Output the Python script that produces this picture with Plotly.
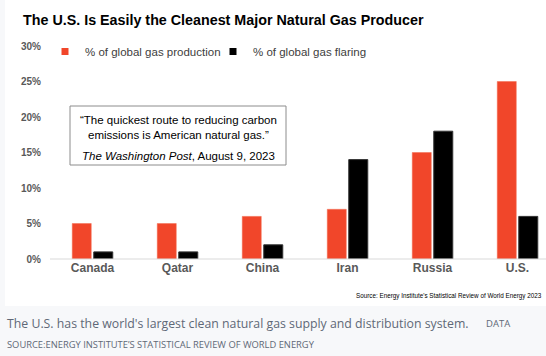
import plotly.graph_objects as go

countries = ["Canada", "Qatar", "China", "Iran", "Russia", "U.S."]
production = [5, 5, 6, 7, 15, 25]
flaring = [1, 1, 2, 14, 18, 6]
series_names = ["% of global gas production", "% of global gas flaring"]
series_colors = ["#F1462A", "#000000"]
y_ticks = [0, 5, 10, 15, 20, 25, 30]

fig = go.Figure()
fig.add_trace(go.Bar(x=countries, y=production, name=series_names[0], legendgroup="p", showlegend=False,
                     marker=dict(color=series_colors[0], line=dict(color="#f36a4f", width=0.5))))
fig.add_trace(go.Bar(x=countries, y=flaring, name=series_names[1], legendgroup="f", showlegend=False,
                     marker=dict(color=series_colors[1], line=dict(color="#333333", width=1))))
# legend entries (small square keys as in the original)
for nm, col, grp in zip(series_names, series_colors, ["p", "f"]):
    fig.add_trace(go.Scatter(x=[None], y=[None], mode="markers", name=nm, legendgroup=grp,
                             marker=dict(symbol="square", size=7, color=col)))

W, H = 546, 356
ml, mr, mt, mb = 50, 0, 46, 97
pw, ph = W - ml - mr, H - mt - mb

def px(x):
    return (x - ml) / pw

def py(y):
    return (H - mb - y) / ph

shapes = [
    dict(type="rect", xref="paper", yref="paper", x0=px(5), x1=px(547), y0=py(306), y1=py(-1),
         fillcolor="white", line=dict(width=0), layer="below"),
    dict(type="line", xref="paper", yref="paper", x0=px(50), x1=px(546), y0=0, y1=0,
         line=dict(color="#d9d9d9", width=1)),
    dict(type="rect", xref="paper", yref="paper", x0=px(70), x1=px(286), y0=py(165), y1=py(106),
         fillcolor="white", line=dict(color="#8c8c8c", width=1)),
]

def A(text, x, y, xa, size, color="#000", family=None, ya="middle"):
    f = dict(size=size, color=color)
    if family:
        f["family"] = family
    return dict(text=text, x=px(x), y=py(y), xref="paper", yref="paper", xanchor=xa, yanchor=ya,
                showarrow=False, font=f)

CAP = "Open Sans, sans-serif"
ann = [
    A("<b>The U.S. Is Easily the Cleanest Major Natural Gas Producer</b>", 21, 20, "left", 14.3),
    A("“The quickest route to reducing carbon<br>emissions is American natural gas.”", 178, 127, "center", 11.5),
    A("<i>The Washington Post</i>, August 9, 2023", 178, 156, "center", 11.5),
    A("Source: Energy Institute's Statistical Review of World Energy 2023", 544, 296, "right", 6.3),
    A("The U.S. has the world's largest clean natural gas supply and distribution system.", 5, 323, "left", 12.3, "#5f6877", CAP),
    A("DATA", 484, 323, "left", 9.5, "#5f6877", CAP),
    A("SOURCE:ENERGY INSTITUTE’S STATISTICAL REVIEW OF WORLD ENERGY", 5, 344, "left", 9.35, "#5f6877", CAP),
]

fig.update_layout(
    width=W, height=H,
    margin=dict(l=ml, r=mr, t=mt, b=mb, autoexpand=False),
    paper_bgcolor="#f7f8fa", plot_bgcolor="white",
    font=dict(family="Arial, Liberation Sans, sans-serif", color="#404040"),
    barmode="group", bargap=0.494, bargroupgap=0.116,
    showlegend=True,
    legend=dict(orientation="h", x=px(45), y=py(37), xanchor="left", yanchor="top",
                bgcolor="rgba(0,0,0,0)", font=dict(size=11.5, color="#404040"),
                entrywidth=123, entrywidthmode="pixels", itemwidth=30),
    shapes=shapes, annotations=ann,
    xaxis=dict(range=[-0.5, 5.335], showgrid=False, showline=False, ticks="", fixedrange=True,
               tickfont=dict(family="Arial, Liberation Sans", size=12, color="#595959", weight="bold")),
    yaxis=dict(range=[0, 30], tickvals=y_ticks, ticktext=[f"{v}%" for v in y_ticks],
               showgrid=False, zeroline=False, showline=False, ticks="", fixedrange=True,
               tickfont=dict(size=10, color="#595959", weight="bold"), ticklabelstandoff=8),
)

fig.write_html("out.html", config={"displayModeBar": False},
               post_script="document.body.style.margin='0';")
